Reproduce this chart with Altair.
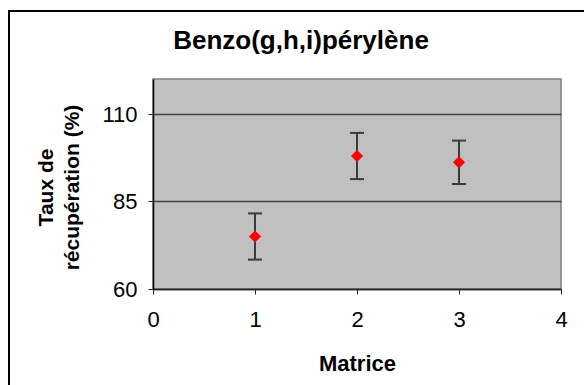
import altair as alt
import pandas as pd

# ---- data ----
matrice = [1, 2, 3]
taux = [75.0, 98.0, 96.2]
ecart = [6.6, 6.6, 6.2]
x_ticks = [0, 1, 2, 3, 4]
y_ticks = [60, 85, 110]
titre = "Benzo(g,h,i)pérylène"
titre_y = ["Taux de", "récupération (%)"]
titre_x = "Matrice"

df = pd.DataFrame({"matrice": matrice, "taux": taux, "ecart": ecart})

FONT = "Liberation Sans, Arial, sans-serif"

x_enc = alt.X(
    "matrice:Q",
    scale=alt.Scale(domain=[0, 4], nice=False, zero=False),
    axis=alt.Axis(
        values=x_ticks, format="d", title=titre_x, grid=False,
        domainColor="#222222", domainWidth=1.5, tickColor="#222222", tickSize=5,
        labelFont=FONT, labelFontSize=22, labelColor="black", labelPadding=15,
        labelFlush=False, labelOverlap=False,
        titleFont=FONT, titleFontSize=22, titleFontWeight="bold", titleColor="black",
        titleX=204, titleY=81, titleBaseline="alphabetic", titleAlign="center",
    ),
)
y_axis = alt.Axis(
    values=y_ticks, format="d", title=titre_y, grid=True,
    gridColor="#404040", gridWidth=1.5,
    domainColor="black", domainWidth=1.5, tickColor="#222222", tickSize=5,
    labelFont=FONT, labelFontSize=22, labelColor="black", labelPadding=11,
    labelFlush=False, labelOverlap=False,
    titleFont=FONT, titleFontSize=21, titleFontWeight="bold", titleColor="black",
    titleX=-118, titleY=108, titleAngle=270, titleAlign="center",
    titleBaseline="top", titleLineHeight=26,
)
y_scale = alt.Scale(domain=[60, 120], nice=False, zero=False)

base = alt.Chart(df).transform_calculate(
    lo="datum.taux - datum.ecart", hi="datum.taux + datum.ecart"
)

stems = base.mark_rule(color="#3a3a3a", strokeWidth=2).encode(
    x=x_enc,
    y=alt.Y("lo:Q", scale=y_scale, axis=y_axis),
    y2="hi:Q",
)
cap_lo = base.mark_tick(orient="horizontal", size=14, thickness=2, color="#3a3a3a", opacity=1).encode(
    x=x_enc, y=alt.Y("lo:Q", scale=y_scale, axis=y_axis)
)
cap_hi = base.mark_tick(orient="horizontal", size=14, thickness=2, color="#3a3a3a", opacity=1).encode(
    x=x_enc, y=alt.Y("hi:Q", scale=y_scale, axis=y_axis)
)
points = base.mark_point(shape="diamond", filled=True, size=150, color="#FF0000", opacity=1).encode(
    x=x_enc, y=alt.Y("taux:Q", scale=y_scale, axis=y_axis)
)

deco = pd.DataFrame({"t": [titre]})
title_mark = alt.Chart(deco).mark_text(
    font=FONT, fontSize=26, fontWeight="bold", color="black",
    align="center", baseline="alphabetic",
).encode(text="t:N", x=alt.value(148), y=alt.value(-30))

frame = alt.Chart(deco).mark_rect(
    fillOpacity=0, stroke="black", strokeWidth=2
).encode(x=alt.value(-144), x2=alt.value(700), y=alt.value(-68), y2=alt.value(600))

chart = alt.layer(frame, stems, cap_lo, cap_hi, points, title_mark).properties(
    width=408,
    height=210,
    autosize=alt.AutoSizeParams(type="none"),
    padding={"left": 153, "top": 79, "right": 23, "bottom": 96},
    background="white",
).configure_view(
    fill="#C0C0C0", stroke="#808080", strokeWidth=1.5
)

chart.save("out.html", embed_options={"renderer": "svg", "actions": False})
